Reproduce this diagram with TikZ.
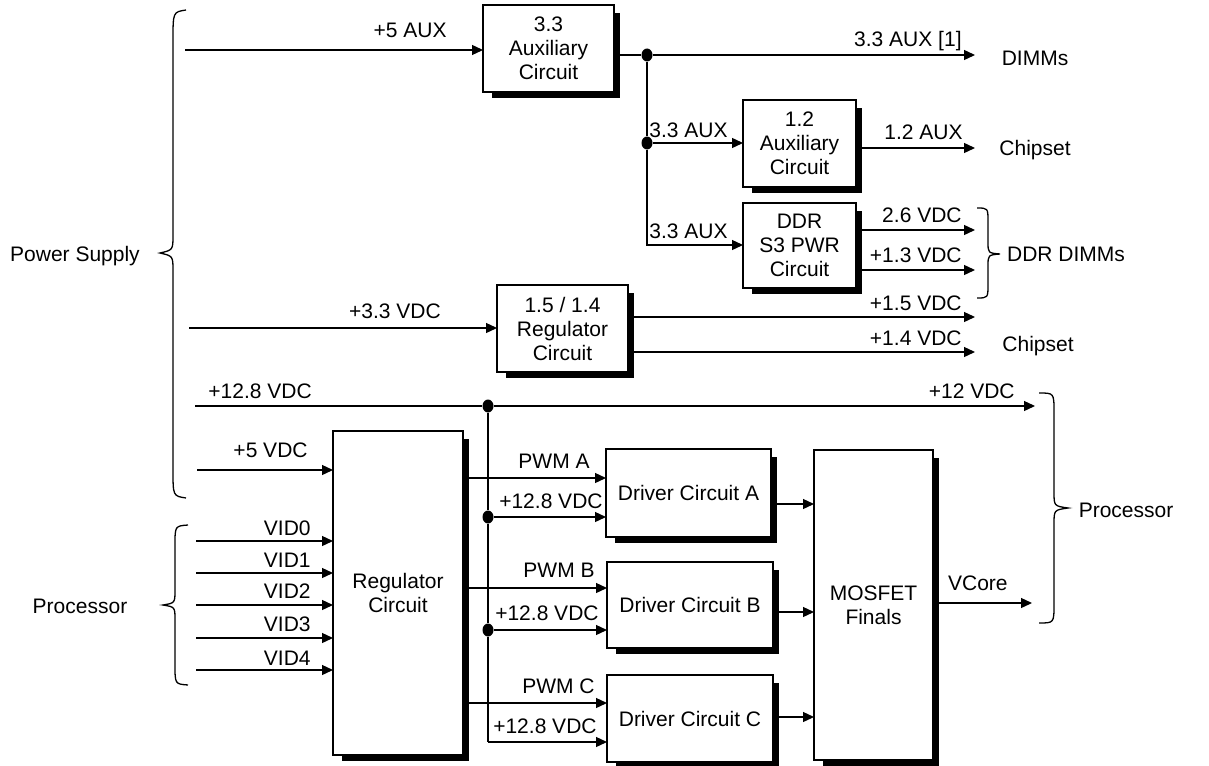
\documentclass[tikz,border=0pt]{standalone}
\usepackage{fontspec}
\setmainfont{Liberation Sans}
\usetikzlibrary{arrows.meta,backgrounds,shapes.geometric}
\begin{document}
\begin{tikzpicture}[x=0.5pt,y=-0.5pt,
  box/.style={draw,line width=1.1pt,fill=white,align=center,inner sep=0pt,outer sep=0pt},
  wire/.style={line width=0.65pt},
  arr/.style={wire,-{Triangle[length=5.5pt,width=5pt]}},
  lbl/.style={inner sep=0pt,anchor=base east},
  side/.style={inner sep=0pt},
  dot/.style={ellipse,fill=black,inner sep=0pt,minimum width=5.5pt,minimum height=6.5pt},
  font=\fontsize{10.5}{12}\selectfont]
\useasboundingbox (0,0) rectangle (1209,765);

% boxes
\node[box,minimum width=65.5pt,minimum height=43.5pt] (aux33) at (548.5,48.5) {3.3\\Auxiliary\\Circuit};
\node[box,minimum width=56.5pt,minimum height=43.5pt] (aux12) at (799.5,143.5) {1.2\\Auxiliary\\Circuit};
\node[box,minimum width=56.5pt,minimum height=42.5pt] (ddr) at (799.5,245.5) {DDR\\S3 PWR\\Circuit};
\node[box,minimum width=65.5pt,minimum height=43.5pt] (reg15) at (562.5,328.5) {1.5 / 1.4\\Regulator\\Circuit};
\node[box,minimum width=65pt,minimum height=162pt] (reg) at (398,593) {Regulator\\Circuit};
\node[box,minimum width=82.5pt,minimum height=44pt] (drvA) at (688.5,493) {Driver Circuit A};
\node[box,minimum width=83pt,minimum height=43pt] (drvB) at (690,605) {Driver Circuit B};
\node[box,minimum width=83pt,minimum height=43.5pt] (drvC) at (690,718.5) {Driver Circuit C};
\node[box,minimum width=59.5pt,minimum height=155pt] (mos) at (873.5,605) {MOSFET\\Finals};

\begin{scope}[on background layer]
\foreach \n in {aux33,aux12,ddr,reg15,reg,drvA,drvB,drvC,mos}
  \fill ([xshift=4.5pt,yshift=-3pt]\n.south west) rectangle ([xshift=3pt,yshift=-4pt]\n.north east);
\end{scope}

% +5 AUX
\coordinate (ps5aux) at (185,50);
\draw[arr] (ps5aux) -- (ps5aux -| aux33.west);
\node[lbl] at (447,38) {+5 AUX};

% 3.3 AUX distribution
\node[dot] (j1) at (647,55) {};
\node[dot] (j2) at (647,143) {};
\coordinate (dimm) at (975,55);
\draw[wire] (aux33.east |- j1) -- (j1);
\draw[arr] (j1) -- (dimm);
\node[lbl] at (962,47) {3.3 AUX [1]};
\node[side] (dimms) at (1035,58) {DIMMs};
\draw[wire] (j1) -- (j2);
\draw[arr] (j2) -- (j2 -| aux12.west);
\node[lbl] at (728,137) {3.3 AUX};
\coordinate (ddrbend) at (647,245);
\draw[arr] (j2) -- (ddrbend) -- (ddr.west |- ddrbend);
\node[lbl] at (728,238) {3.3 AUX};

% 1.2 AUX out
\coordinate (chip1) at (975,148);
\draw[arr] (aux12.east |- chip1) -- (chip1);
\node[lbl] at (963,140) {1.2 AUX};
\node[side] (chipset1) at (1035,150) {Chipset};

% DDR outputs
\coordinate (d26) at (975,230);
\coordinate (d13) at (975,270);
\draw[arr] (ddr.east |- d26) -- (d26);
\draw[arr] (ddr.east |- d13) -- (d13);
\node[lbl] at (962,222) {2.6 VDC};
\node[lbl] at (962,262) {+1.3 VDC};
\draw[wire] (977,208) .. controls (988,208) .. (988,222) -- (988,242) .. controls (988,253) .. (1000,254) .. controls (988,255) .. (988,266) -- (988,284) .. controls (988,298) .. (977,298);
\node[side] (ddrdimms) at (1066,254) {DDR DIMMs};

% 1.5/1.4 regulator
\coordinate (ps33) at (189,328);
\draw[arr] (ps33) -- (ps33 -| reg15.west);
\node[inner sep=0pt,anchor=base] at (395,318) {+3.3 VDC};
\coordinate (o15) at (975,317);
\coordinate (o14) at (975,352);
\draw[arr] (reg15.east |- o15) -- (o15);
\draw[arr] (reg15.east |- o14) -- (o14);
\node[lbl] at (962,310) {+1.5 VDC};
\node[lbl] at (962,345) {+1.4 VDC};
\node[side] (chipset2) at (1038,346) {Chipset};

% +12.8 VDC bus
\coordinate (ps128) at (195,406);
\node[dot] (j3) at (488,406) {};
\coordinate (p12) at (1035,406);
\draw[wire] (ps128) -- (j3);
\draw[arr] (j3) -- (p12);
\node[inner sep=0pt,anchor=base west] at (208,398) {+12.8 VDC};
\node[lbl] at (1015,398) {+12 VDC};

% +5 VDC and VIDs
\coordinate (ps5) at (197,470);
\draw[arr] (ps5) -- (ps5 -| reg.west);
\node[lbl] at (308,457) {+5 VDC};
\foreach \i/\y/\b in {0/541/535,1/573/567,2/605/598,3/638/631,4/670/665}{
  \coordinate (vid\i) at (196,\y);
  \draw[arr] (vid\i) -- (vid\i -| reg.west);
  \node[lbl] at (311,\b) {VID\i};
}

% PWM lines
\coordinate (pA) at (463,478);
\coordinate (pB) at (463,588);
\coordinate (pC) at (463,703);
\draw[arr] (reg.east |- pA) -- (pA -| drvA.west);
\draw[arr] (reg.east |- pB) -- (pB -| drvB.west);
\draw[arr] (reg.east |- pC) -- (pC -| drvC.west);
\node[lbl] at (590,468) {PWM A};
\node[lbl] at (595,577) {PWM B};
\node[lbl] at (595,693) {PWM C};

% +12.8 branches
\node[dot] (j4) at (488,517) {};
\node[dot] (j5) at (488,630) {};
\coordinate (jc) at (488,742);
\draw[wire] (j3) -- (j4) -- (j5) -- (jc);
\draw[arr] (j4) -- (j4 -| drvA.west);
\draw[arr] (j5) -- (j5 -| drvB.west);
\draw[arr] (jc) -- (jc -| drvC.west);
\node[lbl] at (603,508) {+12.8 VDC};
\node[lbl] at (599,620) {+12.8 VDC};
\node[lbl] at (597,733) {+12.8 VDC};

% driver outputs
\coordinate (oA) at (771,504);
\coordinate (oB) at (773,612);
\coordinate (oC) at (773,717);
\draw[arr] (drvA.east |- oA) -- (oA -| mos.west);
\draw[arr] (drvB.east |- oB) -- (oB -| mos.west);
\draw[arr] (drvC.east |- oC) -- (oC -| mos.west);

% VCore
\coordinate (vc) at (1032,603);
\draw[arr] (mos.east |- vc) -- (vc);
\node[lbl] at (1008,590) {VCore};

% right processor brace
\draw[wire] (1039,393) .. controls (1054,393) .. (1054,412) -- (1054,492) .. controls (1054,506) .. (1068,508) .. controls (1054,510) .. (1054,524) -- (1054,604) .. controls (1054,623) .. (1039,623);
\node[side] (proc2) at (1126,510) {Processor};

% left braces
\draw[wire] (186,10) .. controls (173,12) .. (173,40) -- (173,235) .. controls (173,250) .. (160,253) .. controls (173,256) .. (173,271) -- (173,470) .. controls (173,496) .. (186,498);
\node[side] (psu) at (75,256) {Power Supply};
\draw[wire] (188,525) .. controls (175,526) .. (175,545) -- (175,590) .. controls (175,603) .. (163,605) .. controls (175,607) .. (175,620) -- (175,665) .. controls (175,684) .. (188,685);
\node[side] (proc1) at (80,606) {Processor};
\end{tikzpicture}
\end{document}
